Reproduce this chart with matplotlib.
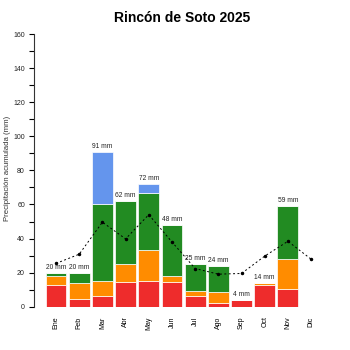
import matplotlib
matplotlib.use("Agg")
import matplotlib.pyplot as plt
import numpy as np

plt.rcParams['font.family'] = ['Liberation Sans', 'DejaVu Sans']

meses = ["Ene", "Feb", "Mar", "Abr", "May", "Jun", "Jul", "Ago", "Sep", "Oct", "Nov", "Dic"]
# precipitación por tramos (mm)
rojo = [13, 4.5, 6, 14.5, 15, 14.5, 6, 2, 4, 13, 10.5, 0]
naranja = [5, 9.5, 9, 10.5, 18, 3.5, 3, 6.5, 0, 1, 17.5, 0]
verde = [2, 6, 45, 37, 34, 30, 16, 15.5, 0, 0, 31, 0]
azul = [0, 0, 31, 0, 5, 0, 0, 0, 0, 0, 0, 0]
media = [25.4, 30.8, 49.6, 39.8, 54, 38, 22.4, 19.1, 19.5, 29.7, 38.4, 27.9]

x = np.arange(len(meses))
r = np.array(rojo)
n = np.array(naranja)
v = np.array(verde)
a = np.array(azul)
total = r + n + v + a

fig = plt.figure(figsize=(3.5, 3.5), dpi=100)
ax = fig.add_axes([34/350, 0.1237, 291/350, 0.779])

w = 0.9
kw = dict(width=w, edgecolor='white', linewidth=0.5)
ax.bar(x, r, color='#EE2C2C', **kw)
ax.bar(x, n, bottom=r, color='#FF8C00', **kw)
ax.bar(x, v, bottom=r + n, color='#228B22', **kw)
ax.bar(x, a, bottom=r + n + v, color='#6495ED', **kw)

for xi, t in zip(x, total):
    if t > 0:
        ax.annotate(f"{t:.0f} mm", (xi, t), xytext=(0, 1.5), textcoords='offset points',
                    ha='center', va='bottom', fontsize=4.8, color='#222222')

ax.plot(x, media, color='black', linestyle=(0, (2, 2.5)), linewidth=0.7,
        marker='.', markersize=3)

ax.set_xlim(-0.95, 11.6)
ax.set_ylim(0, 160)
ax.set_yticks(np.arange(0, 161, 20))
ax.set_yticks(np.arange(0, 161, 10), minor=True)
ax.tick_params(axis='y', which='both', length=3.5, width=0.8, labelsize=5, pad=3,
               labelcolor='#222222')
ax.set_xticks(x)
ax.set_xticklabels(meses, rotation=90, fontsize=5)
ax.tick_params(axis='x', length=0, pad=7)

for s in ['top', 'right', 'bottom']:
    ax.spines[s].set_visible(False)
ax.spines['left'].set_color('#333333')
ax.spines['left'].set_linewidth(0.8)

fig.text(8/350, 1 - 168/350, "Precipitación acumulada (mm)", rotation=90,
         ha='center', va='center', fontsize=5.6, color='#333333')
fig.text(182/350, 1 - 18/350, "Rincón de Soto 2025", ha='center', va='center',
         fontsize=10, fontweight='bold')

fig.savefig("out.png", dpi=100)
